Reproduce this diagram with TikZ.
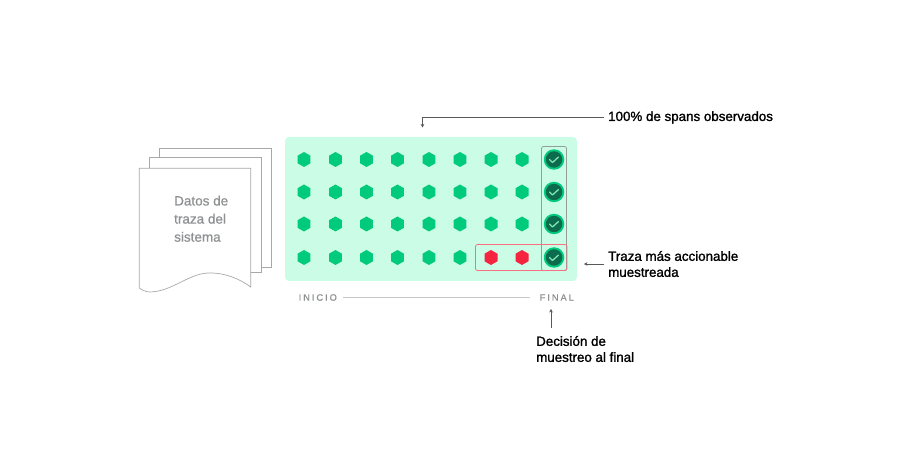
\documentclass[tikz,border=0pt]{standalone}
\usepackage{fontspec}
\setmainfont{Liberation Sans}
\newfontfamily\labelfont[FakeBold=1.4]{Liberation Sans}
\newfontfamily\docfont[FakeBold=0.7]{Liberation Sans}
\newfontfamily\spacedfont[LetterSpace=21,FakeBold=0.6]{Liberation Sans}
\usetikzlibrary{shapes.geometric,arrows.meta}
\definecolor{panelgreen}{HTML}{CBFCE6}
\definecolor{hexgreen}{HTML}{00CB7C}
\definecolor{darkgreen}{HTML}{0B6B4C}
\definecolor{checkgreen}{HTML}{7FE3B4}
\definecolor{hexred}{HTML}{F5253F}
\definecolor{pagegray}{HTML}{A8A8A8}
\definecolor{textgray}{HTML}{8E9091}
\tikzset{
  x=1pt,y=-1pt,
  hexa/.style={regular polygon,regular polygon sides=6,shape border rotate=30,minimum size=15pt,inner sep=0pt,fill=hexgreen},
  hexred/.style={hexa,fill=hexred},
  ringdot/.style={circle,minimum size=20.5pt,inner sep=0pt,fill=hexgreen},
  coredot/.style={circle,minimum size=16.5pt,inner sep=0pt,fill=darkgreen},
  pagebox/.style={draw=pagegray,line width=.7pt,fill=white},
  callout/.style={font=\labelfont\fontsize{13.35}{16}\selectfont,align=left,anchor=west,inner sep=0pt,text=black},
  axis/.style={font=\spacedfont\fontsize{9.3}{11}\selectfont,text=textgray,inner sep=0pt},
  leader/.style={draw=black!65,line width=.6pt,-{Stealth[length=3.5pt,width=3.6pt]}},
  framegray/.style={draw=black!50,line width=.8pt,rounded corners=2pt,opacity=.75},
  framered/.style={draw=hexred!65,line width=.8pt,rounded corners=2pt}
}
\begin{document}
\begin{tikzpicture}
\useasboundingbox (0,0) rectangle (900,470);
% pages
\path[pagebox] (159.5,148) rectangle (271.5,267.5);
\path[pagebox] (149.5,157.5) rectangle (261.5,272.5);
\path[pagebox] (139.3,168.3) -- (250.7,168.3) -- (250.7,287)
  .. controls (240,279) and (225,272.5) .. (208,273)
  .. controls (188,274) and (172,291.5) .. (150,292)
  .. controls (146,292) and (142,290) .. (139.3,288) -- cycle;
\node[anchor=north west,inner sep=0pt,text=textgray,align=left,font=\docfont\fontsize{13.5}{18.1}\selectfont] (doc) at (174,195.5) {Datos de\\traza del\\sistema};
% panel
\path[fill=panelgreen,rounded corners=4pt] (285,137) rectangle (577,281);
\node[inner sep=0pt,minimum size=0pt] (panel) at (431,209) {};
% hexagons
\foreach \row/\y in {1/159.5,2/192,3/224,4/257.5}{
  \foreach \col/\x in {1/304,2/335.5,3/366.5,4/397.5,5/429,6/460,7/491,8/522}{
    \ifnum\row=4 \ifnum\col>6
      \node[hexred] (h\row-\col) at (\x,\y) {};
    \else
      \node[hexa] (h\row-\col) at (\x,\y) {};
    \fi\else
      \node[hexa] (h\row-\col) at (\x,\y) {};
    \fi
  }
  \node[ringdot] (r\row) at (554,\y) {};
  \node[coredot] (c\row) at (554,\y) {};
  \draw[checkgreen,line width=1.3pt,line cap=round,line join=round] (549.5,\y) ++(0,0) -- ++(3,3) -- ++(6,-5.5);
}
% frames
\path[framegray] (541.5,146.5) rectangle (566.5,270.5);
\path[framered] (475.5,244.5) rectangle (567,270.5);
% axis
\node[axis,anchor=west] (inicio) at (298.5,297.5) {INICIO};
\node[axis,anchor=west] (final) at (539.5,297.5) {FINAL};
\draw[draw=black!22,line width=.8pt] (343,297.5) -- (530,297.5);
% callouts
\node[callout] (spans) at (608,117.5) {100\% de spans observados};
\node[callout] (traza) at (608,264) {Traza más accionable\\muestreada};
\node[callout] (decis) at (536,349) {Decisión de\\muestreo al final};
\coordinate (a1) at (422.5,127.5);
\coordinate (a2) at (584,264);
\coordinate (a3) at (551,309);
\coordinate (a3s) at (551,328);
\draw[leader] ([xshift=-4pt]spans.west) -| (a1);
\draw[leader] ([xshift=-4pt]traza.west) -- (a2);
\draw[leader] (a3s) -- (a3);
\end{tikzpicture}
\end{document}
